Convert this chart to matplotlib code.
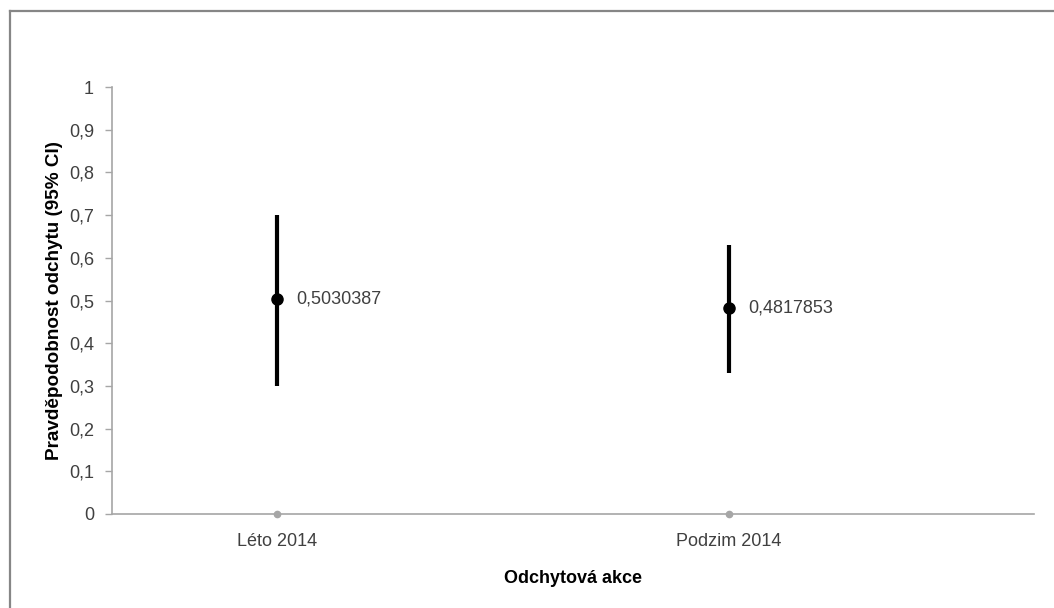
import numpy as np
import matplotlib
matplotlib.use("Agg")
import matplotlib.pyplot as plt
from matplotlib.lines import Line2D

plt.rcParams['font.family'] = ['Liberation Sans', 'DejaVu Sans']

# data
categories = ["Léto 2014", "Podzim 2014"]
estimates = [0.5030387, 0.4817853]
ci_low = [0.30, 0.33]
ci_high = [0.70, 0.63]
baseline = [0, 0]
yticks = [0, 0.1, 0.2, 0.3, 0.4, 0.5, 0.6, 0.7, 0.8, 0.9, 1]
ytick_labels = ["0", "0,1", "0,2", "0,3", "0,4", "0,5", "0,6", "0,7", "0,8", "0,9", "1"]

W, H = 1054, 608
fig = plt.figure(figsize=(W / 100, H / 100), dpi=100)
ax = fig.add_axes([112 / W, (H - 514) / H, (1034 - 112) / W, (514 - 87) / H])

x = np.arange(1, len(categories) + 1)
est = np.array(estimates)
yerr = [est - np.array(ci_low), np.array(ci_high) - est]

axis_grey = "#a6a6a6"
text_grey = "#404040"

# zero series markers sitting on the x axis
ax.plot(x, baseline, 'o', color=axis_grey, markersize=4.5, clip_on=False, zorder=3)

ax.errorbar(x, est, yerr=yerr, fmt='o', color='black', ecolor='black',
            elinewidth=3, markersize=8, capsize=0, zorder=4)

for xi, v in zip(x, estimates):
    ax.annotate(("%.7f" % v).replace('.', ','), (xi, v), xytext=(14, 0),
                textcoords='offset points', va='center', ha='left',
                fontsize=13, color=text_grey)

ax.set_xlim(0.635, 2.675)
ax.set_ylim(0, 1)
ax.set_xticks(x)
ax.set_xticklabels(categories)
ax.set_yticks(yticks)
ax.set_yticklabels(ytick_labels)

for s in ['top', 'right']:
    ax.spines[s].set_visible(False)
for s in ['left', 'bottom']:
    ax.spines[s].set_color(axis_grey)
    ax.spines[s].set_linewidth(1.2)

ax.tick_params(axis='y', length=5, width=1, color=axis_grey, pad=8,
               labelsize=13, labelcolor=text_grey)
ax.tick_params(axis='x', length=0, pad=14, labelsize=13, labelcolor=text_grey)

ax.set_xlabel("Odchytová akce", fontsize=13, fontweight='bold', labelpad=14)
ax.set_ylabel("Pravděpodobnost odchytu (95% CI)", fontsize=13.6, fontweight='bold', labelpad=4)

# chart frame (cut off on the right and bottom)
fig.add_artist(Line2D([10 / W, 10 / W], [0, 1 - 11 / H], color="#868686", lw=1.6))
fig.add_artist(Line2D([10 / W, 1], [1 - 11 / H, 1 - 11 / H], color="#868686", lw=1.6))

fig.savefig("out.png", dpi=100)
